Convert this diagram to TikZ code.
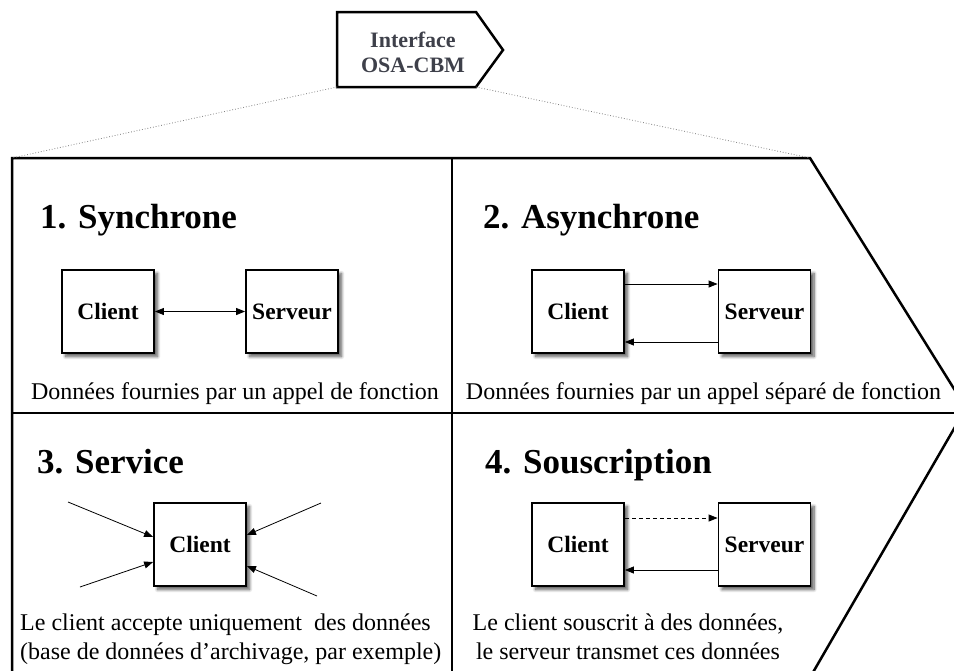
\documentclass[tikz,border=0pt]{standalone}
\usepackage{fontspec}
\setmainfont{Liberation Serif}
\usetikzlibrary{arrows.meta,shadows.blur,positioning}
\definecolor{gristitre}{RGB}{62,64,74}

\tikzset{
    bloc/.style={draw, line width=1.8pt, fill=white, minimum width=92pt, minimum height=83pt,
        inner sep=0pt, font=\fontsize{23.5}{28}\selectfont\bfseries,
        blur shadow={shadow xshift=3.5pt, shadow yshift=-3.5pt, shadow blur steps=8, shadow blur radius=3pt, shadow opacity=65}},
    titre/.style={anchor=base west, inner sep=0pt, font=\fontsize{35}{40}\selectfont\bfseries},
    texte/.style={inner sep=0pt, anchor=base, font=\fontsize{24}{29}\selectfont},
    fleche/.style={-{Triangle[length=9pt,width=7pt]}, line width=0.8pt},
    cadre/.style={line width=2.5pt, line join=miter}
}

\begin{document}
\begin{tikzpicture}[x=1pt,y=-1pt]
        \useasboundingbox (0,0) rectangle (954,670);
        % interface en haut
        \coordinate (pA) at (337,12);
        \coordinate (pB) at (476,12);
        \coordinate (pC) at (503,50);
        \coordinate (pD) at (476,87);
        \coordinate (pE) at (337,87);
        \draw[cadre] (pA) -- (pB) -- (pC) -- (pD) -- (pE) -- cycle;
        \node[align=center, text=gristitre, font=\fontsize{22}{25}\selectfont\bfseries] (iface) at (413,52) {Interface\\OSA-CBM};
        % cadre principal
        \coordinate (oA) at (12,158);
        \coordinate (oB) at (810,158);
        \draw[cadre] (12,700) -- (oA) -- (oB) -- (966,408) -- (797,700);
        \draw[line width=2pt] (452,158) -- (452,700);
        \draw[line width=2.2pt] (12,413) -- (963,413);
        \draw[gray, dotted, line width=0.8pt] (pE) -- (oA);
        \draw[gray, dotted, line width=0.8pt] (pD) -- (oB);
        % 1. Synchrone
        \node[titre] (tA) at (40,228) {1. Synchrone};
        \node[bloc] (cliA) at (108,311.5) {Client};
        \node[bloc] (srvA) at (292,311.5) {Serveur};
        \draw[line width=0.8pt, {Triangle[length=9pt,width=7pt]}-{Triangle[length=9pt,width=7pt]}] (cliA) -- (srvA);
        \node[texte] (txtA) at (235,399) {Données fournies par un appel de fonction};
        % 2. Asynchrone
        \node[titre] (tB) at (483,228) {2. Asynchrone};
        \node[bloc] (cliB) at (578,311.5) {Client};
        \node[bloc] (srvB) at (764.5,311.5) {Serveur};
        \draw[fleche] ([yshift=27.5pt]cliB.east) -- ([yshift=27.5pt]srvB.west);
        \draw[fleche] ([yshift=-30.5pt]srvB.west) -- ([yshift=-30.5pt]cliB.east);
        \node[texte] (txtB) at (703.5,399) {Données fournies par un appel séparé de fonction};
        % 3. Service
        \node[titre] (tC) at (37,473) {3. Service};
        \node[bloc] (cliC) at (200,544.5) {Client};
        \coordinate (e1) at (68,502);
        \coordinate (e2) at (80,587);
        \coordinate (e3) at (321,503);
        \coordinate (e4) at (317,596);
        \draw[fleche] (e1) -- ([yshift=7.5pt]cliC.west);
        \draw[fleche] (e2) -- ([yshift=-17.5pt]cliC.west);
        \draw[fleche] (e3) -- ([yshift=9.5pt]cliC.east);
        \draw[fleche] (e4) -- ([yshift=-21.5pt]cliC.east);
        \node[texte, anchor=base west, align=left] (txtC) at (20,659) {Le client accepte uniquement\ \ des données\\(base de données d’archivage, par exemple)};
        % 4. Souscription
        \node[titre] (tD) at (485,473) {4. Souscription};
        \node[bloc] (cliD) at (578,544.5) {Client};
        \node[bloc] (srvD) at (764.5,544.5) {Serveur};
        \draw[fleche, dash pattern=on 4pt off 3pt] ([yshift=26.5pt]cliD.east) -- ([yshift=26.5pt]srvD.west);
        \draw[fleche] ([yshift=-25.5pt]srvD.west) -- ([yshift=-25.5pt]cliD.east);
        \node[texte, align=center] (txtD) at (628,659) {Le client souscrit à des données,\\le serveur transmet ces données};
\end{tikzpicture}
\end{document}
